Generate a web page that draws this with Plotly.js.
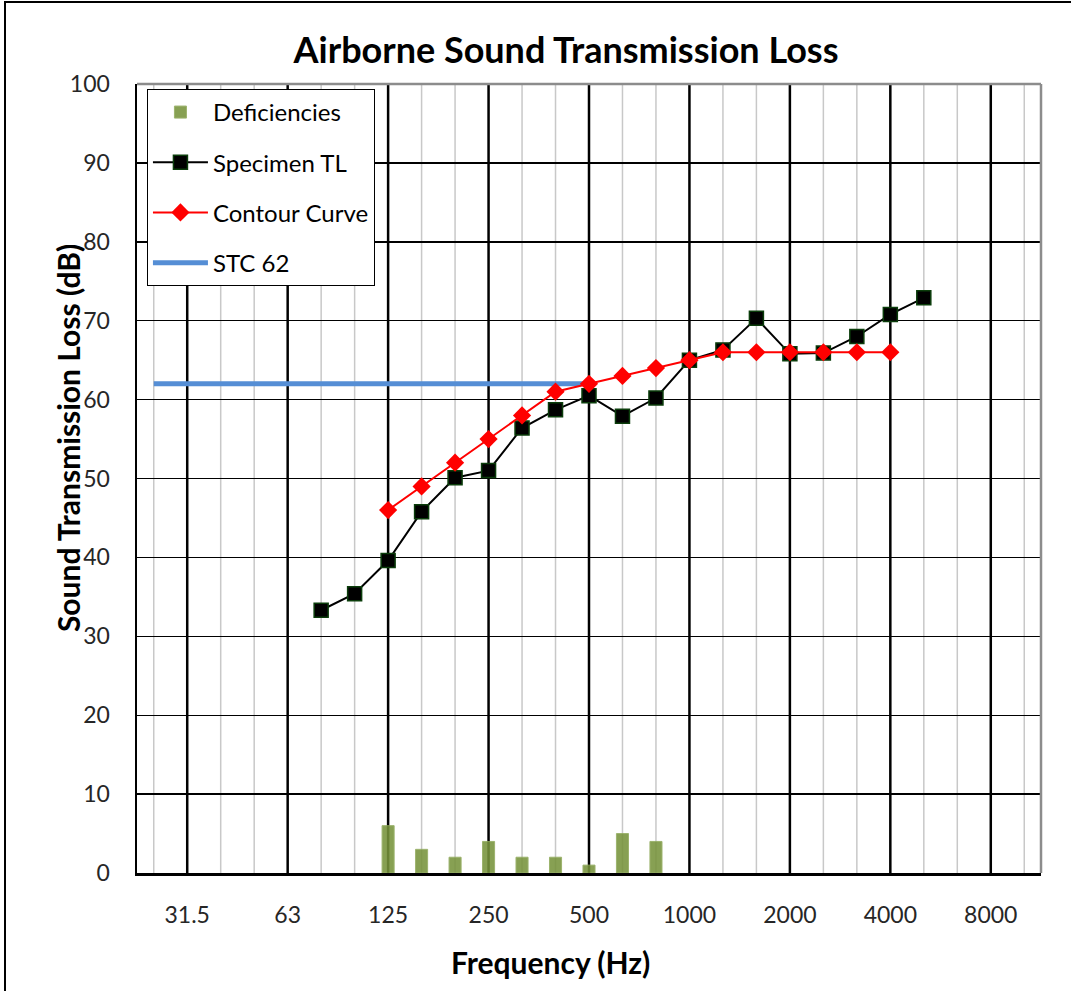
<!DOCTYPE html>
<html>
<head>
<meta charset="utf-8">
<script src="https://cdn.plot.ly/plotly-3.0.1.min.js"></script>
<style>
  html, body { margin: 0; padding: 0; background: #fff; }
  #frame { position: absolute; left: 4px; top: 1px; width: 1067px; height: 990px; border-left: 2px solid #000; border-top: 2px solid #000; box-sizing: border-box; pointer-events: none; z-index: 10; }
  #chart { width: 1071px; height: 991px; }
</style>
</head>
<body>
<div id="frame"></div>
<div id="chart"></div>
<script>
// Third-octave band centre frequencies (category axis)
const freqs = ['25','31.5','40','50','63','80','100','125','160','200','250','315','400','500','630','800','1000','1250','1600','2000','2500','3150','4000','5000','6300','8000','10000'];
// Octave bands that carry labels and dark gridlines
const octaveBands = ['31.5','63','125','250','500','1000','2000','4000','8000'];

// Specimen transmission loss
const specFreqs = ['80','100','125','160','200','250','315','400','500','630','800','1000','1250','1600','2000','2500','3150','4000','5000'];
const specimenTL = [33.3, 35.4, 39.6, 45.8, 50.1, 51.0, 56.4, 58.7, 60.5, 57.9, 60.2, 65.0, 66.3, 70.3, 65.8, 65.9, 68.0, 70.8, 72.9];

// STC contour curve
const contourFreqs = ['125','160','200','250','315','400','500','630','800','1000','1250','1600','2000','2500','3150','4000'];
const contourTL = [46, 49, 52, 55, 58, 61, 62, 63, 64, 65, 66, 66, 66, 66, 66, 66];

// Deficiencies
const defFreqs = ['125','160','200','250','315','400','500','630','800'];
const deficiencies = [6, 3, 2, 4, 2, 2, 1, 5, 4];

// STC rating line
const stcFreqs = ['25','500'];
const stcValue = [62, 62];

const yTicks = [0,10,20,30,40,50,60,70,80,90,100];

const FONT = 'Lato, "Open Sans", sans-serif';

const traces = [
  {
    type: 'bar', name: 'Deficiencies', x: defFreqs, y: deficiencies,
    width: 0.36, marker: { color: '#77933C', line: { color: '#8FA95A', width: 1 } },
    opacity: 0.88, legendgroup: 'a', legendrank: 1
  },
  {
    type: 'scatter', mode: 'lines', name: 'STC 62', x: stcFreqs, y: stcValue,
    line: { color: '#558ED5', width: 5 }, legendgroup: 'd', legendrank: 4
  },
  {
    type: 'scatter', mode: 'lines+markers', name: 'Specimen TL', x: specFreqs, y: specimenTL,
    line: { color: '#000000', width: 2 },
    marker: { symbol: 'square', size: 14, color: '#000000', line: { color: '#0B3D0B', width: 1.5 } },
    legendgroup: 'b', legendrank: 2
  },
  {
    type: 'scatter', mode: 'lines+markers', name: 'Contour Curve', x: contourFreqs, y: contourTL,
    line: { color: '#FF0000', width: 2 },
    marker: { symbol: 'diamond', size: 14, color: '#FF0000' },
    legendgroup: 'c', legendrank: 3
  }
];

// vertical gridlines: grey at every third-octave band, black at octave bands
const shapes = freqs.map((f, i) => {
  const oct = octaveBands.includes(f);
  return {
    type: 'line', xref: 'x', yref: 'paper', x0: i, x1: i, y0: 0, y1: 1,
    line: { color: oct ? '#000000' : '#C8C8C8', width: oct ? 2.5 : 1.5 }, layer: 'below'
  };
});
// grey plot-area border on top and right
shapes.push({ type: 'line', xref: 'paper', yref: 'paper', x0: 0, x1: 1, y0: 1, y1: 1, line: { color: '#8C8C8C', width: 2.5 }, layer: 'above' });
shapes.push({ type: 'line', xref: 'paper', yref: 'paper', x0: 1, x1: 1, y0: 0, y1: 1, line: { color: '#8C8C8C', width: 2.5 }, layer: 'above' });

const layout = {
  width: 1071, height: 991,
  margin: { l: 137, r: 30, t: 84, b: 118 },
  paper_bgcolor: '#ffffff', plot_bgcolor: '#ffffff',
  font: { family: FONT, color: '#262626' },
  title: {
    text: '<b>Airborne Sound Transmission Loss</b>',
    font: { family: FONT, size: 36, color: '#000000' },
    x: 0.4746, xanchor: 'center', xref: 'paper', y: 0.9495, yanchor: 'middle', yref: 'container'
  },
  xaxis: {
    type: 'category', categoryorder: 'array', categoryarray: freqs,
    range: [-0.5, freqs.length - 0.5],
    tickmode: 'array', tickvals: freqs,
    ticktext: freqs.map(f => octaveBands.includes(f) ? f : ''),
    ticks: '', showgrid: false,
    showline: true, linecolor: '#000000', linewidth: 2.5,
    tickfont: { family: FONT, size: 23, color: '#262626' },
    ticklabelstandoff: 20, zeroline: false, fixedrange: true
  },
  yaxis: {
    range: [0, 100], tickmode: 'array', tickvals: yTicks,
    ticks: '', showgrid: true, gridcolor: '#000000', gridwidth: 1.4,
    showline: true, linecolor: '#000000', linewidth: 2.5,
    tickfont: { family: FONT, size: 23, color: '#262626' },
    ticklabelstandoff: 20, zeroline: false, fixedrange: true
  },
  bargap: 0,
  showlegend: true,
  legend: {
    x: 0.011, y: 0.9937, xanchor: 'left', yanchor: 'top',
    bgcolor: '#ffffff', bordercolor: '#000000', borderwidth: 1,
    font: { family: FONT, size: 24, color: '#000000' },
    traceorder: 'grouped', tracegroupgap: 16, itemwidth: 55
  },
  shapes: shapes,
  annotations: [
    {
      text: '<b>Sound Transmission Loss (dB)</b>', textangle: -90,
      xref: 'paper', yref: 'paper', x: -0.0763, y: 0.5513, xanchor: 'center', yanchor: 'middle',
      showarrow: false, font: { family: FONT, size: 30, color: '#000000' }
    },
    {
      text: '<b>Frequency (Hz)</b>',
      xref: 'paper', yref: 'paper', x: 0.4569, y: -0.1128, xanchor: 'center', yanchor: 'middle',
      showarrow: false, font: { family: FONT, size: 30, color: '#000000' }
    }
  ]
};

Plotly.newPlot('chart', traces, layout, { displayModeBar: false, staticPlot: true });
</script>
</body>
</html>
